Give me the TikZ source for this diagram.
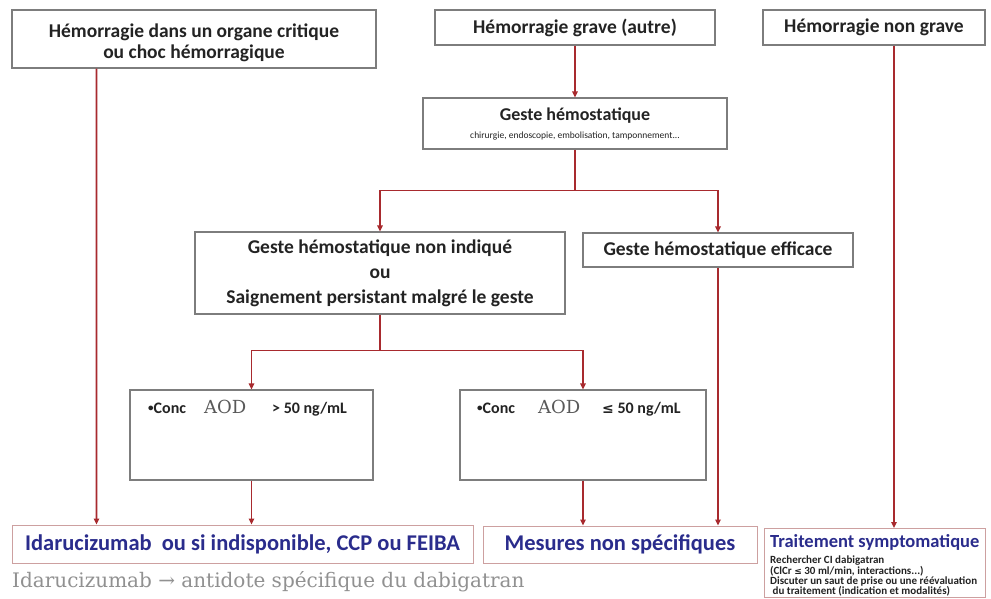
\documentclass[tikz,border=0pt]{standalone}
\usepackage{fontspec}
\setmainfont{Carlito}
\newfontfamily\slabfont{DejaVu Serif}
\newfontfamily\symfont{DejaVu Sans}
\usetikzlibrary{arrows.meta,shadows}

\definecolor{linkred}{RGB}{168,42,46}
\definecolor{boxgrey}{RGB}{125,125,125}
\definecolor{pinkedge}{RGB}{205,160,160}
\definecolor{navy}{RGB}{42,44,140}
\definecolor{notegrey}{RGB}{145,145,145}
\definecolor{txt}{RGB}{35,35,35}

\tikzset{
  card/.style={draw=boxgrey, line width=1.1pt, fill=white, inner sep=0pt,
    drop shadow={shadow xshift=1.2pt, shadow yshift=-1.2pt, opacity=0.2, fill=black},
    text=txt, font=\bfseries\fontsize{19.5}{22}\selectfont, align=center},
  outcome/.style={draw=pinkedge, line width=1pt, fill=white, inner sep=0pt,
    text=navy, font=\bfseries\fontsize{22.5}{26}\selectfont, align=center},
  link/.style={draw=linkred, line width=1.6pt},
  arr/.style={link, -{Triangle[length=6pt,width=5.5pt]}},
  conc/.style={anchor=west, text=txt, inner sep=0pt, font=\bfseries\fontsize{16}{18}\selectfont},
}
\newcommand{\aod}{{\slabfont\mdseries\fontsize{18}{18}\selectfont\color{black!65}AOD}}
\newcommand{\smallbullet}{\raisebox{1.5pt}{\fontsize{11}{11}\selectfont\textbullet}}

\begin{document}
\begin{tikzpicture}[x=1pt,y=-1pt]
\useasboundingbox (0,0) rectangle (991,599);
\fill[white] (0,0) rectangle (991,599);

% top row
\node[card, minimum width=364pt, minimum height=58pt] (b1) at (194,39) {};
\node[text=txt, font=\bfseries\fontsize{19.5}{21.5}\selectfont, align=center, inner sep=0pt] (b1t) at (194,43)
  {Hémorragie dans un organe critique\\ou choc hémorragique};
\node[card, minimum width=280pt, minimum height=35pt] (b2) at (575,27.5)
  {Hémorragie grave (autre)};
\node[card, minimum width=222pt, minimum height=35pt] (b3) at (874,27.5)
  {Hémorragie non grave};

% haemostatic procedure
\node[card, minimum width=304pt, minimum height=51pt, font=\bfseries\fontsize{18}{20}\selectfont] (geste) at (575,123.5)
  {Geste hémostatique\\[-2pt]{\fontsize{9.5}{10}\selectfont\mdseries chirurgie, endoscopie, embolisation, tamponnement...}};

\node[card, minimum width=370pt, minimum height=82pt, font=\bfseries\fontsize{19.5}{25}\selectfont] (nonind) at (380,273)
  {Geste hémostatique non indiqué\\ou\\Saignement persistant malgré le geste};
\node[card, minimum width=270pt, minimum height=34pt] (eff) at (718,250)
  {Geste hémostatique efficace};

% concentration boxes
\node[card, minimum width=243pt, minimum height=90pt] (c1) at (251.5,435) {};
\node[card, minimum width=246pt, minimum height=90pt] (c2) at (583,435) {};
\node[conc] (c1t) at (148,408)
  {\smallbullet Conc\hspace{18pt}\aod\hspace{26pt}> 50 ng/mL};
\node[conc] (c2t) at (477,408)
  {\smallbullet Conc\hspace{23pt}\aod\hspace{22pt}{\symfont\fontsize{14}{14}\selectfont ≤} 50 ng/mL};

% outcomes
\node[outcome, minimum width=461pt, minimum height=38pt] (ida) at (242.5,544)
  {Idarucizumab\ \ ou si indisponible, CCP ou FEIBA};
\node[outcome, minimum width=274pt, minimum height=37pt] (mes) at (620,544.5)
  {Mesures non spécifiques};
\node[outcome, minimum width=221pt, minimum height=69pt] (trt) at (874.5,563) {};
\node[anchor=west, inner sep=0pt, text=navy, font=\bfseries\fontsize{18.5}{20}\selectfont] (trtt) at (770,542)
  {Traitement symptomatique};
\node[anchor=north west, align=left, inner sep=0pt, text=txt, font=\bfseries\fontsize{11}{10.3}\selectfont] (trtd) at (770,556)
  {Rechercher CI dabigatran\\(ClCr {\symfont\fontsize{9}{9}\selectfont ≤} 30 ml/min, interactions...)\\Discuter un saut de prise ou une réévaluation\\\ du traitement (indication et modalités)};

% footnote
\node[anchor=west, inner sep=0pt, text=notegrey, font=\slabfont\fontsize{20}{22}\selectfont] (note) at (12,582)
  {Idarucizumab → antidote spécifique du dabigatran};

% connectors
\draw[arr] (b2.south) -- (geste.north);
\draw[link] (geste.south) -- ([yshift=-41pt]geste.south);
\draw[arr] ([yshift=-41pt]geste.south) -| (nonind.north);
\draw[arr] ([yshift=-41pt]geste.south) -| (eff.north);

\draw[link] (nonind.south) -- ([yshift=-36pt]nonind.south);
\draw[arr] ([yshift=-36pt]nonind.south) -| (c1.north);
\draw[arr] ([yshift=-36pt]nonind.south) -| (c2.north);

\draw[arr] ([xshift=85pt]b1.south west) -- ([xshift=85pt]ida.north west);
\draw[arr] (c1.south) -- (c1.south |- ida.north);
\draw[arr] (c2.south) -- (c2.south |- mes.north);
\draw[arr] (eff.south) -- (eff.south |- mes.north);
\draw[arr] ([xshift=20pt]b3.south) -- ([xshift=20pt]b3.south |- trt.north);
\end{tikzpicture}
\end{document}
